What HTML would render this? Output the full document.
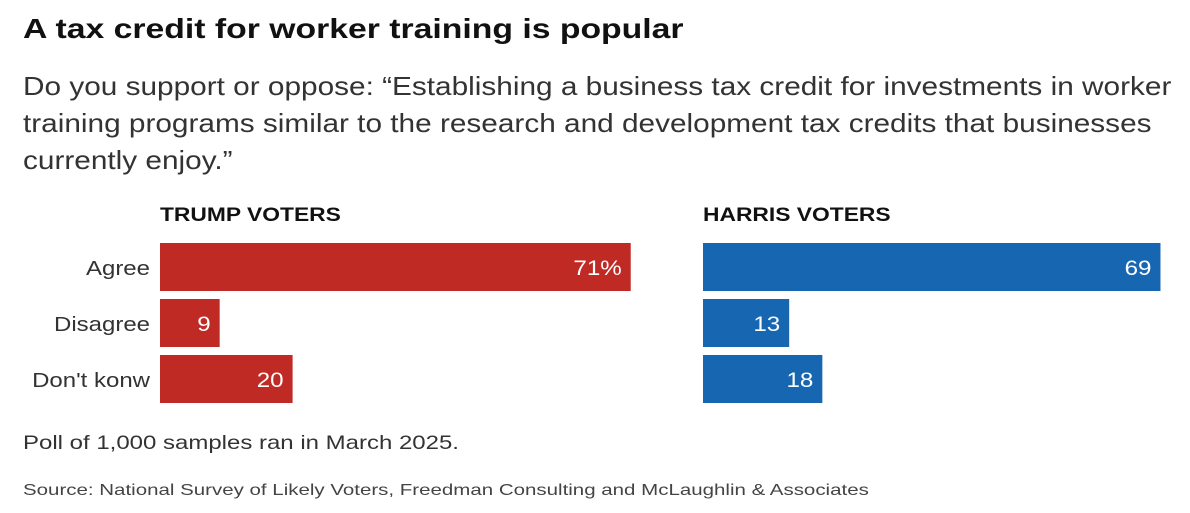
<!DOCTYPE html>
<html><head><meta charset="utf-8">
<style>
body{margin:0;width:1190px;height:513px;background:#fff;font-family:"Liberation Sans",sans-serif;color:#222;position:relative;overflow:hidden}
.w{position:absolute;white-space:nowrap;transform-origin:0 0}
.t{left:23px;top:13px;font-size:28px;font-weight:bold;color:#111;transform:scaleX(1.205)}
.s{left:23px;top:68px;font-size:26px;line-height:37px;color:#333;transform:scaleX(1.145)}
.h{top:204px;font-size:19.5px;font-weight:bold;color:#111;transform:scaleX(1.17)}
.f{left:23px;top:432px;font-size:19.5px;color:#333;transform:scaleX(1.23)}
.src{left:23px;top:482px;font-size:16px;color:#444;transform:scaleX(1.28)}
</style></head><body>
<div class="w t">A tax credit for worker training is popular</div>
<div class="w s">Do you support or oppose: “Establishing a business tax credit for investments in worker<br>training programs similar to the research and development tax credits that businesses<br>currently enjoy.”</div>
<div class="w h" style="left:160px">TRUMP VOTERS</div>
<div class="w h" style="left:703px">HARRIS VOTERS</div>
<svg id="c" width="1190" height="513" style="position:absolute;left:0;top:0"></svg>
<div class="w f">Poll of 1,000 samples ran in March 2025.</div>
<div class="w src">Source: National Survey of Likely Voters, Freedman Consulting and McLaughlin &amp; Associates</div>
<script>
const categories=["Agree","Disagree","Don't konw"];
const trumpValues=[71,9,20];
const harrisValues=[69,13,18];
const trumpLabels=["71%","9","20"];
const harrisLabels=["69","13","18"];
const svg=document.getElementById('c');
const NS="http://www.w3.org/2000/svg";
const scale=v=>v*6.63;
const yPos=i=>243+i*56;
const barH=48;
function mk(tag,attrs){const e=document.createElementNS(NS,tag);for(const k in attrs)e.setAttribute(k,attrs[k]);svg.appendChild(e);return e;}
categories.forEach((c,i)=>{
  const t=mk('text',{x:0,y:0,'text-anchor':'end','font-size':20,fill:'#333',transform:'translate(150,'+(yPos(i)+32)+') scale(1.2,1)'});
  t.textContent=c;
  
  
});
function series(vals,labels,x0,color,name){
  vals.forEach((v,i)=>{
    const r=mk('rect',{x:x0,y:yPos(i),width:scale(v),height:barH,fill:color});
    
    
    const t=mk('text',{x:0,y:0,'text-anchor':'end','font-size':21,fill:'#fff',transform:'translate('+(x0+scale(v)-9)+','+(yPos(i)+32)+') scale(1.15,1)'});
    t.textContent=labels[i];
    
    
  });
}
series(trumpValues,trumpLabels,160,'#c02a25','trump');
series(harrisValues,harrisLabels,703,'#1766b2','harris');
</script>
</body></html>
